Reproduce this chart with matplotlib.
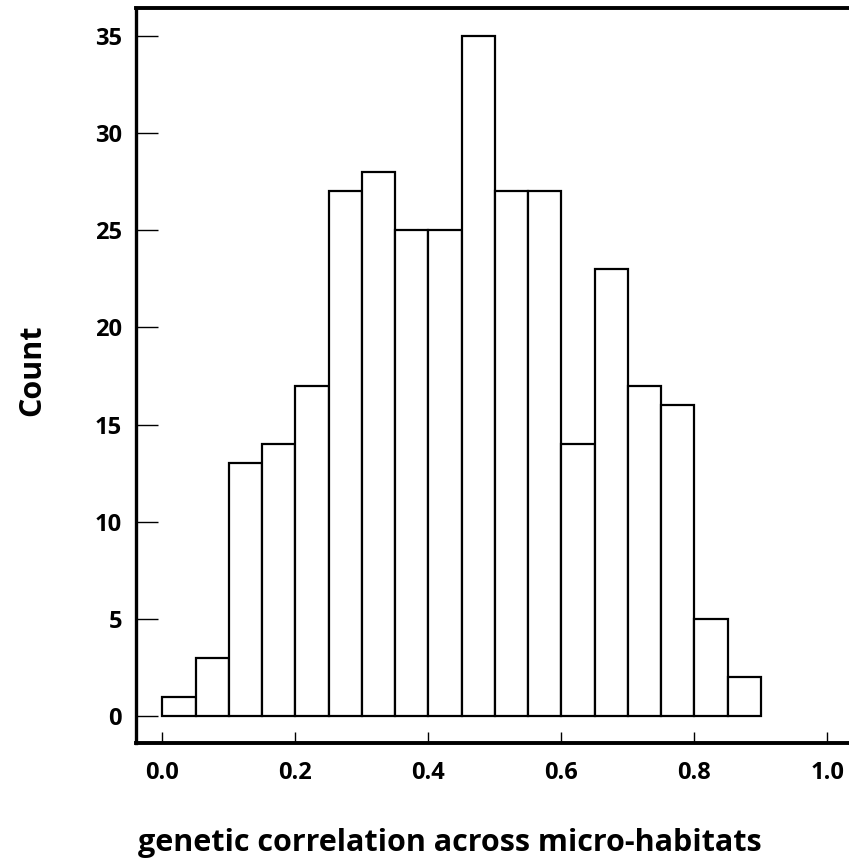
import numpy as np
import matplotlib as mpl
mpl.use('Agg')
import matplotlib.pyplot as plt

mpl.rcParams['font.family'] = ['Open Sans', 'DejaVu Sans']
mpl.rcParams['font.weight'] = 'bold'

# histogram bins (width 0.05) and counts
bin_edges = np.round(np.arange(0.0, 0.9001, 0.05), 2)
counts = [1, 3, 13, 14, 17, 27, 28, 25, 25, 35, 27, 27, 14, 23, 17, 16, 5, 2]
x_ticks = [0.0, 0.2, 0.4, 0.6, 0.8, 1.0]
y_ticks = [0, 5, 10, 15, 20, 25, 30, 35]

W, H = 849, 865
fig = plt.figure(figsize=(W / 100, H / 100), dpi=100)

# axes box in pixels
left, right, top, bottom = 136, 849, 8, 743
ax = fig.add_axes([left / W, 1 - bottom / H, (right - left) / W, (bottom - top) / H])

ax.bar(bin_edges[:-1], counts, width=0.05, align='edge',
       color='white', edgecolor='black', linewidth=1.6)

ax.set_xlim(-0.0395, 1.0326)
ax.set_ylim(-1.39, 36.44)

ax.set_xticks(x_ticks)
ax.set_xticklabels(['%.1f' % t for t in x_ticks], fontsize=17, fontweight='bold')
ax.set_yticks(y_ticks)
ax.set_yticklabels([str(t) for t in y_ticks], fontsize=17, fontweight='bold')

ax.tick_params(axis='x', direction='in', length=8, width=1.0, pad=13)
ax.tick_params(axis='y', direction='in', length=16, width=1.0, pad=10)

ax.spines['right'].set_visible(False)
ax.spines['left'].set_linewidth(2.4)
ax.spines['bottom'].set_linewidth(2.8)
ax.spines['top'].set_linewidth(2.8)

fig.text(450 / W, 1 - 843 / H, 'genetic correlation across micro-habitats',
         ha='center', va='center', fontsize=22, fontweight='bold')
fig.text(32 / W, 1 - 370 / H, 'Count', rotation=90,
         ha='center', va='center', fontsize=22, fontweight='bold')

fig.savefig('out.png', dpi=100)
